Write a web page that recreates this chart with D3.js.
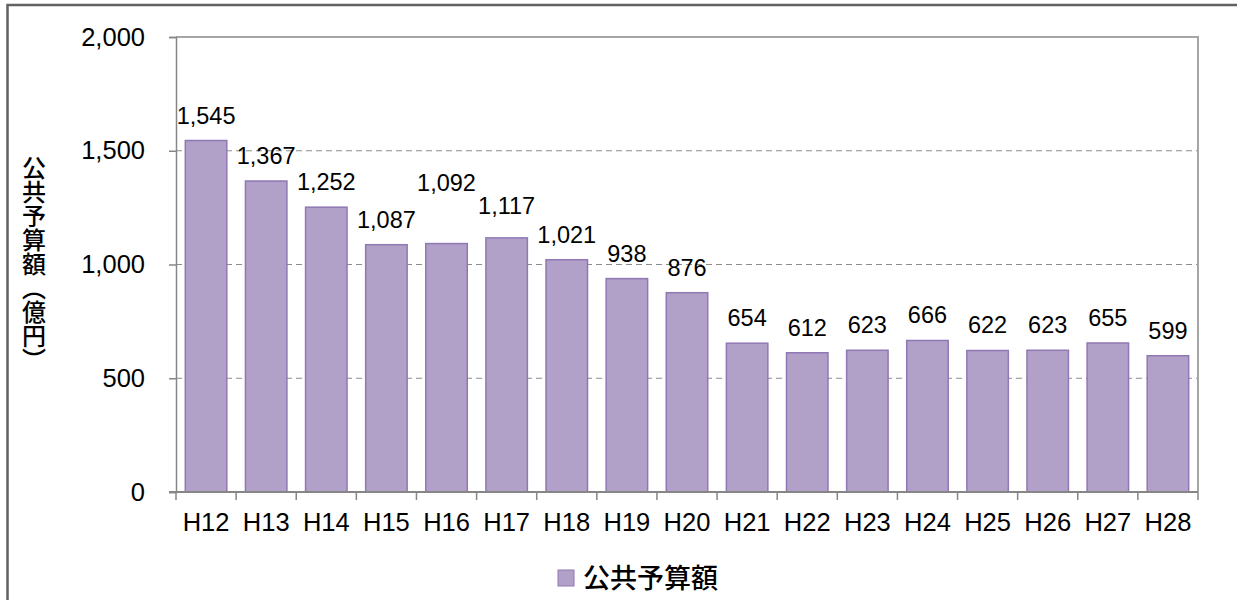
<!DOCTYPE html>
<html>
<head>
<meta charset="utf-8">
<script src="https://cdn.jsdelivr.net/npm/d3@7"></script>
<style>
  body { margin: 0; background: #fff; }
  svg { display: block; }
  text { font-family: "Liberation Sans", Arial, sans-serif; fill: #000; }
  .jp { font-family: "Noto Sans CJK JP", sans-serif; }
</style>
</head>
<body>
<div class="chart"></div>
<script>
// chart data
var years = ["H12", "H13", "H14", "H15", "H16", "H17", "H18", "H19", "H20",
             "H21", "H22", "H23", "H24", "H25", "H26", "H27", "H28"];
var budget = [1545, 1367, 1252, 1087, 1092, 1117, 1021, 938, 876,
              654, 612, 623, 666, 622, 623, 655, 599];
var yTicks = [0, 500, 1000, 1500, 2000];
var seriesName = "公共予算額";
var yTitle = "公共予算額（億円）";

var svgWidth = 1237, svgHeight = 600;
var plot = { left: 176, right: 1198, top: 37, bottom: 492 };

var svg = d3.select(".chart").append("svg")
  .attr("width", svgWidth)
  .attr("height", svgHeight);

// outer frame (cut off at right/bottom like the screenshot)
svg.append("rect")
  .attr("x", 7.5).attr("y", 5)
  .attr("width", 1400).attr("height", 800)
  .attr("fill", "none")
  .attr("stroke", "#626262")
  .attr("stroke-width", 2.5);

var x = d3.scaleBand()
  .domain(years)
  .range([plot.left, plot.right])
  .padding(0);

var y = d3.scaleLinear()
  .domain([0, 2000])
  .range([plot.bottom, plot.top]);

// dashed gridlines
svg.append("g").selectAll("line")
  .data(yTicks.filter(d => d > 0 && d < 2000))
  .enter().append("line")
  .attr("x1", plot.left).attr("x2", plot.right)
  .attr("y1", d => y(d)).attr("y2", d => y(d))
  .attr("stroke", "#8c8c8c")
  .attr("stroke-dasharray", "6,4");

// plot area border top + right
svg.append("path")
  .attr("d", `M${plot.left},${y(2000)}H${plot.right}V${plot.bottom}`)
  .attr("fill", "none")
  .attr("stroke", "#a6a6a6")
  .attr("stroke-width", 2);

// bars
var barW = x.bandwidth() * 0.69;
svg.append("g").selectAll("rect")
  .data(budget)
  .enter().append("rect")
  .attr("x", (d, i) => x(years[i]) + (x.bandwidth() - barW) / 2)
  .attr("y", d => y(d))
  .attr("width", barW)
  .attr("height", d => y(0) - y(d))
  .attr("fill", "#b1a0c7")
  .attr("stroke", "#9078b4")
  .attr("stroke-width", 1.5);

// data labels, a couple were nudged up in the original
var lift = { H16: 36, H17: 7 };
var fmt = d3.format(",");
svg.append("g").selectAll("text")
  .data(budget)
  .enter().append("text")
  .attr("x", (d, i) => x(years[i]) + x.bandwidth() / 2)
  .attr("y", (d, i) => y(d) - 17 - (lift[years[i]] || 0))
  .attr("text-anchor", "middle")
  .style("font-size", "23.5px")
  .text(d => fmt(d));

// y axis
var yAxis = d3.axisLeft(y)
  .tickValues(yTicks)
  .tickSize(7)
  .tickPadding(24)
  .tickFormat(fmt);
var yg = svg.append("g")
  .attr("transform", `translate(${plot.left},0)`)
  .call(yAxis);
yg.select(".domain").attr("stroke", "#868686").attr("stroke-width", 1.5);
yg.selectAll(".tick line").attr("stroke", "#868686").attr("stroke-width", 1.5);
yg.selectAll(".tick text")
  .style("font-size", "25.5px")
  .style("font-family", '"Liberation Sans", Arial, sans-serif')
  .attr("fill", "#000");

// x axis: labels at centers, ticks at category boundaries
var xAxis = d3.axisBottom(x).tickSize(0).tickPadding(21);
var xg = svg.append("g")
  .attr("transform", `translate(0,${plot.bottom})`)
  .call(xAxis);
xg.select(".domain").remove();
xg.selectAll(".tick text")
  .style("font-size", "25.5px")
  .style("font-family", '"Liberation Sans", Arial, sans-serif')
  .attr("fill", "#000");

svg.append("line")
  .attr("x1", plot.left - 7).attr("x2", plot.right)
  .attr("y1", plot.bottom).attr("y2", plot.bottom)
  .attr("stroke", "#868686").attr("stroke-width", 2);

svg.append("g").selectAll("line")
  .data(years.map(d => x(d)).concat([plot.right]))
  .enter().append("line")
  .attr("x1", d => d).attr("x2", d => d)
  .attr("y1", plot.bottom).attr("y2", plot.bottom + 8)
  .attr("stroke", "#868686").attr("stroke-width", 1.5);

// vertical y title
svg.append("text")
  .attr("class", "jp")
  .attr("x", 34).attr("y", 156)
  .style("writing-mode", "vertical-rl")
  .style("font-size", "24px")
  .style("font-weight", 500)
  .text(yTitle);

// legend
svg.append("rect")
  .attr("x", 558).attr("y", 570)
  .attr("width", 16).attr("height", 16)
  .attr("fill", "#b1a0c7")
  .attr("stroke", "#9078b4")
  .attr("stroke-width", 1);
svg.append("text")
  .attr("class", "jp")
  .attr("x", 583).attr("y", 588)
  .style("font-size", "27px")
  .style("font-weight", 500)
  .text(seriesName);
</script>
</body>
</html>
